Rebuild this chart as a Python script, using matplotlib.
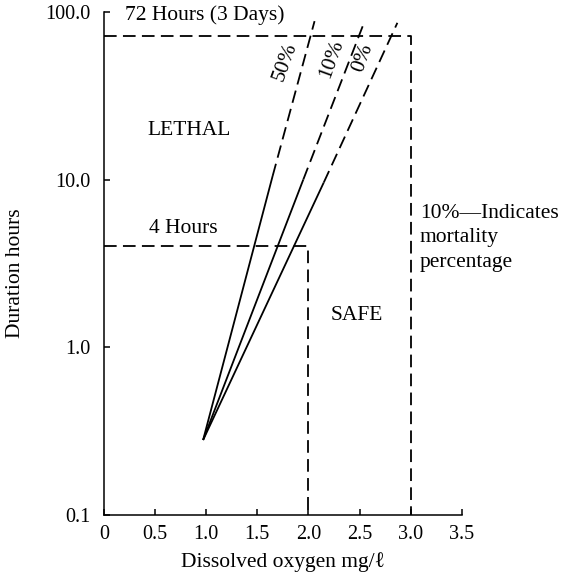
import matplotlib
matplotlib.use("Agg")
import matplotlib.pyplot as plt

# ---- data ----
mortality_labels = ["50%", "10%", "0%"]
origin_x = 0.97
origin_y = 0.28
solid_end_x = [1.65, 1.95, 2.15]
solid_end_y = [10.5, 10.0, 9.6]
dash_end_x = [2.06, 2.55, 2.87]
dash_end_y = [88.0, 88.0, 86.0]
label_x = [1.77, 2.23, 2.53]
label_y = [50.0, 52.5, 53.0]

limit_hours = [72.0, 4.0]
limit_oxygen = [3.0, 2.0]

x_ticks = [0, 0.5, 1.0, 1.5, 2.0, 2.5, 3.0, 3.5]
x_tick_labels = ["0", "0.5", "1.0", "1.5", "2.0", "2.5", "3.0", "3.5"]
y_ticks = [0.1, 1.0, 10.0, 100.0]
y_tick_labels = ["0.1", "1.0", "10.0", "100.0"]

serif = ["Liberation Serif", "DejaVu Serif"]
plt.rcParams["font.family"] = serif
FS_TEXT = 15.5
FS_TICK = 14.5
FS_LABEL = 15.5

fig = plt.figure(figsize=(5.68, 5.77), dpi=100)
ax = fig.add_axes([0.183, 0.1075, 0.630, 0.872])
ax.set_yscale("log")
ax.set_xlim(0, 3.5)
ax.set_ylim(0.1, 100)

dash = (7, 3.5)
lw = 1.3

# mortality lines
for sx, sy, ex, ey in zip(solid_end_x, solid_end_y, dash_end_x, dash_end_y):
    ax.plot([origin_x, sx], [origin_y, sy], color="black", lw=lw, solid_capstyle="butt")
    ax.plot([sx, ex], [sy, ey], color="black", lw=lw, dashes=dash)

# limit boxes (72 h and 4 h)
for h, ox in zip(limit_hours, limit_oxygen):
    ax.plot([0, ox, ox], [h, h, 0.1], color="black", lw=lw, dashes=dash, clip_on=False)

for lab, lx, ly in zip(mortality_labels, label_x, label_y):
    ax.text(lx, ly, lab, rotation=70, ha="center", va="center", fontsize=FS_TEXT)

ax.text(0.205, 95, "72 Hours (3 Days)", ha="left", va="center", fontsize=FS_TEXT, clip_on=False)
ax.text(0.83, 19.6, "LETHAL", ha="center", va="center", fontsize=FS_TEXT)
ax.text(0.78, 5.1, "4 Hours", ha="center", va="center", fontsize=FS_TEXT)
ax.text(2.47, 1.55, "SAFE", ha="center", va="center", fontsize=FS_TEXT)
ax.text(3.09, 4.5, "10%\u2014Indicates\nmortality\npercentage", ha="left", va="center",
        fontsize=FS_TEXT, linespacing=1.4, clip_on=False)

ax.set_xticks(x_ticks)
ax.set_xticklabels(x_tick_labels)
ax.set_yticks(y_ticks)
ax.set_yticklabels(y_tick_labels)
ax.minorticks_off()
ax.tick_params(axis="both", direction="in", length=4, width=1.1, labelsize=FS_TICK)
ax.tick_params(axis="y", pad=10)
ax.tick_params(axis="x", pad=7)

for s in ["top", "right"]:
    ax.spines[s].set_visible(False)
for s in ["left", "bottom"]:
    ax.spines[s].set_linewidth(1.1)

ax.set_xlabel("Dissolved oxygen mg/\u2113", fontsize=FS_LABEL)
ax.set_ylabel("Duration hours", fontsize=FS_LABEL)
ax.xaxis.set_label_coords(0.5, -0.0745)
ax.yaxis.set_label_coords(-0.221, 0.481)

fig.savefig("out.png", dpi=100)
